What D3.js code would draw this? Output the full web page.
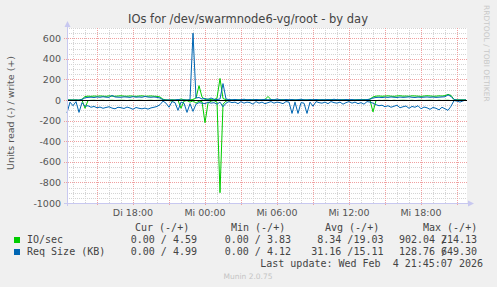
<!DOCTYPE html>
<html lang="de">
<head>
<meta charset="UTF-8">
<title>IOs for /dev/swarmnode6-vg/root - by day</title>
<style>
  body { margin: 0; background: #f0f0f0; }
  svg { display: block; }
</style>
</head>
<body>
<script src="https://cdn.jsdelivr.net/npm/d3@7"></script>
<div id="chart"></div>
<script>
// one sample every 15 minutes
const start = new Date(2026, 1, 3, 12, 30);
const end = new Date(2026, 1, 4, 21, 50);
const stepMinutes = 15;

// IO/sec (write drawn up, read drawn down)
const ioWrite = [0,0,0,0,0,8,
  34,38,36,39,37,40,38,36,41,38,37,39,42,38,37,40,38,36,39,41,37,38,40,37,36,30,
  8,2,0,3,1,2,10,3,1,2,
  5,20,140,30,5,10,4,2,20,210,15,3,
  2,1,3,2,0,4,2,1,3,2,1,0,5,
  35,
  5,2,1,0,3,1,0,2,1,0,3,1,2,0,1,3,2,1,0,2,4,1,2,0,3,1,2,0,1,3,2,6,2,10,
  30,38,40,37,39,41,38,36,40,42,38,39,37,41,40,38,36,39,42,40,37,38,41,39,43,55,45,
  5,0,0,0,0];
const ioRead = [0,0,2,0,5,0,
  80,
  5,3,2,4,3,2,5,3,2,4,3,2,3,5,2,3,4,2,3,5,3,2,4,3,2,
  3,2,5,10,4,2,
  80,
  10,5,20,8,30,10,15,
  220,
  30,10,5,20,
  900,
  40,10,
  2,5,3,1,4,2,3,6,2,1,3,2,4,1,2,5,3,2,1,4,2,3,6,2,1,3,5,2,1,4,3,2,1,2,5,3,2,4,1,2,3,5,2,1,3,2,4,2,
  115,
  5,3,4,2,3,5,2,4,3,2,3,4,2,5,3,2,4,3,2,3,5,2,4,3,2,5,
  2,0,0,0,0];

// Req Size (KB)
const reqWrite = [0,0,0,0,0,5,
  22,26,28,25,30,27,32,28,26,45,30,28,27,31,29,26,33,28,30,27,35,29,27,30,26,20,
  3,0,2,0,1,5,0,2,0,4,
  650,
  20,25,10,15,5,20,8,5,10,
  160,
  10,5,3,6,2,4,8,3,5,2,6,3,4,7,2,5,3,10,4,2,6,3,5,2,4,8,3,2,5,3,6,2,4,3,5,2,8,3,4,2,6,3,5,2,3,4,2,5,8,
  20,25,27,24,28,26,30,27,25,29,26,28,31,27,25,29,26,28,30,27,29,26,28,30,32,50,35,
  5,0,0,0,0];
const reqRead = [125,20,55,15,120,25,
  60,55,70,62,75,68,80,72,65,78,85,70,74,82,68,77,90,72,80,85,78,88,76,70,62,45,
  10,30,70,15,25,100,20,30,120,35,
  110,
  40,25,30,35,20,30,25,40,20,
  65,
  30,15,25,20,35,15,30,20,25,40,15,30,20,35,25,15,30,20,25,35,15,20,
  130,20,130,25,30,130,20,60,
  15,25,30,20,35,15,25,30,20,40,25,15,30,20,35,25,40,15,20,
  30,45,55,50,65,55,70,60,50,75,65,58,80,62,70,55,85,68,75,90,72,80,95,70,85,100,60,
  5,10,20,8,0];

const yTicks = [-1000, -800, -600, -400, -200, 0, 200, 400, 600];
const xTickTimes = [new Date(2026,1,3,18), new Date(2026,1,4,0), new Date(2026,1,4,6),
                    new Date(2026,1,4,12), new Date(2026,1,4,18)];
const xTickLabels = ["Di 18:00", "Mi 00:00", "Mi 06:00", "Mi 12:00", "Mi 18:00"];

const legendNames = ["IO/sec", "Req Size (KB)"];
const legendColors = ["#00cc00", "#0066b3"];
const legendHeads = ["Cur (-/+)", "Min (-/+)", "Avg (-/+)", "Max (-/+)"];
const legendCur = ["0.00 / 4.59", "0.00 / 4.99"];
const legendMin = ["0.00 / 3.83", "0.00 / 4.12"];
const legendAvg = ["8.34 /19.03", "31.16 /15.11"];
const legendMaxRead = ["902.04 /", "128.76 /"];
const legendMaxWrite = ["214.13", "649.30"];
const lastUpdate = "Last update: Wed Feb\u00a0\u00a04 21:45:07 2026";

const W = 497, H = 287;
const plot = {left: 67, right: 467, top: 28, bottom: 203};

const svg = d3.select("#chart").append("svg")
  .attr("width", W).attr("height", H)
  .style("font-family", "DejaVu Sans, sans-serif");

const x = d3.scaleTime().domain([start, end]).range([plot.left, plot.right]);
const y = d3.scaleLinear().domain([-1000, 700]).range([plot.bottom, plot.top]);
const crisp = v => Math.round(v) + 0.5;
const timeAt = i => new Date(start.getTime() + i * stepMinutes * 60000);

svg.append("rect")
  .attr("x", plot.left).attr("y", plot.top)
  .attr("width", plot.right - plot.left).attr("height", plot.bottom - plot.top)
  .attr("fill", "#ffffff");

// minor grid
const grid = svg.append("g");
grid.selectAll(".hmin")
  .data(d3.range(-1000, 701, 50).filter(v => v % 200 !== 0 || v === 700))
  .join("line")
    .attr("x1", plot.left).attr("x2", plot.right)
    .attr("y1", d => crisp(y(d))).attr("y2", d => crisp(y(d)))
    .attr("stroke", "#d4d4d4").attr("stroke-dasharray", "1,1");
grid.selectAll(".vmin")
  .data(d3.timeHour.range(start, end).filter(d => d.getHours() % 3 !== 0))
  .join("line")
    .attr("x1", d => crisp(x(d))).attr("x2", d => crisp(x(d)))
    .attr("y1", plot.top).attr("y2", plot.bottom)
    .attr("stroke", "#d4d4d4").attr("stroke-dasharray", "1,1");

// major grid
grid.selectAll(".hmaj")
  .data(yTicks)
  .join("line")
    .attr("x1", plot.left - 3).attr("x2", plot.right)
    .attr("y1", d => crisp(y(d))).attr("y2", d => crisp(y(d)))
    .attr("stroke", "#f0a0a0").attr("stroke-dasharray", "1,1");
grid.selectAll(".vmaj")
  .data(d3.timeHour.every(3).range(start, end))
  .join("line")
    .attr("x1", d => crisp(x(d))).attr("x2", d => crisp(x(d)))
    .attr("y1", plot.top).attr("y2", plot.bottom + 3)
    .attr("stroke", "#f0a0a0").attr("stroke-dasharray", "1,1");

// series
const lineUp = d3.line().x((d, i) => x(timeAt(i))).y(d => y(d));
const lineDown = d3.line().x((d, i) => x(timeAt(i))).y(d => y(-d));
const series = [
  {data: ioRead, line: lineDown, color: legendColors[0]},
  {data: ioWrite, line: lineUp, color: legendColors[0]},
  {data: reqRead, line: lineDown, color: legendColors[1]},
  {data: reqWrite, line: lineUp, color: legendColors[1]}
];
svg.selectAll(".series")
  .data(series)
  .join("path")
    .attr("d", s => s.line(s.data))
    .attr("fill", "none")
    .attr("stroke", s => s.color)
    .attr("stroke-width", 1);

// zero rule
svg.append("line")
  .attr("x1", plot.left).attr("x2", plot.right)
  .attr("y1", crisp(y(0))).attr("y2", crisp(y(0)))
  .attr("stroke", "#000000");

// axes with arrows
const axisColor = "#c8c8f0";
svg.append("line")
  .attr("x1", plot.left + 0.5).attr("x2", plot.left + 0.5)
  .attr("y1", plot.bottom + 3).attr("y2", plot.top - 4)
  .attr("stroke", axisColor);
svg.append("line")
  .attr("x1", plot.left - 3).attr("x2", plot.right + 4)
  .attr("y1", plot.bottom + 0.5).attr("y2", plot.bottom + 0.5)
  .attr("stroke", axisColor);
svg.append("path")
  .attr("d", `M${plot.left - 2.5},${plot.top - 1} L${plot.left + 0.5},${plot.top - 7} L${plot.left + 3.5},${plot.top - 1} Z`)
  .attr("fill", axisColor);
svg.append("path")
  .attr("d", `M${plot.right + 1},${plot.bottom - 2.5} L${plot.right + 7},${plot.bottom + 0.5} L${plot.right + 1},${plot.bottom + 3.5} Z`)
  .attr("fill", axisColor);

// tick labels
svg.selectAll(".ylab")
  .data(yTicks)
  .join("text")
    .attr("x", 61).attr("y", d => y(d) + 3.5)
    .attr("text-anchor", "end")
    .attr("font-size", 9.5).attr("fill", "#555")
    .text(d => d);
svg.selectAll(".xlab")
  .data(xTickTimes)
  .join("text")
    .attr("x", d => x(d)).attr("y", 216)
    .attr("text-anchor", "middle")
    .attr("font-size", 9.5).attr("fill", "#555")
    .text((d, i) => xTickLabels[i]);

// title and side texts
svg.append("text")
  .attr("x", 248).attr("y", 23)
  .attr("text-anchor", "middle")
  .attr("font-size", 11.5).attr("fill", "#444")
  .text("IOs for /dev/swarmnode6-vg/root - by day");
svg.append("text")
  .attr("transform", "translate(14, 113) rotate(-90)")
  .attr("text-anchor", "middle")
  .attr("font-size", 9.5).attr("fill", "#555")
  .text("Units read (-) / write (+)");
svg.append("text")
  .attr("transform", "translate(484, 5) rotate(90)")
  .attr("font-size", 7.5).attr("fill", "#c8c8c8")
  .text("RRDTOOL / TOBI OETIKER");
svg.append("text")
  .attr("x", 248).attr("y", 279)
  .attr("text-anchor", "middle")
  .attr("font-size", 7.5).attr("fill", "#c4c4c4")
  .text("Munin 2.0.75");

// legend
const mono = svg.append("g")
  .style("font-family", "DejaVu Sans Mono, monospace")
  .attr("font-size", 10).attr("fill", "#444");
const headX = [135, 231, 325, 423];
mono.selectAll(".head")
  .data(legendHeads)
  .join("text")
    .attr("x", (d, i) => headX[i]).attr("y", 230.5)
    .text(d => d);
const rowY = [243, 255];
legendNames.forEach((name, r) => {
  svg.append("rect")
    .attr("x", 14).attr("y", rowY[r] - 6)
    .attr("width", 6).attr("height", 6)
    .attr("fill", legendColors[r]);
  mono.append("text").attr("x", 27).attr("y", rowY[r]).text(name);
  [[legendCur, 197], [legendMin, 291], [legendAvg, 383.5]].forEach(([col, ex]) => {
    mono.append("text").attr("x", ex).attr("y", rowY[r])
      .attr("text-anchor", "end").text(col[r]);
  });
  // rrdtool prints the max column wider than its slot, so the two halves overlap
  mono.append("text").attr("x", 399).attr("y", rowY[r]).text(legendMaxRead[r]);
  mono.append("text").attr("x", 477).attr("y", rowY[r])
    .attr("text-anchor", "end").text(legendMaxWrite[r]);
});
mono.append("text")
  .attr("x", 483).attr("y", 266.5)
  .attr("text-anchor", "end")
  .text(lastUpdate);
</script>
</body>
</html>
